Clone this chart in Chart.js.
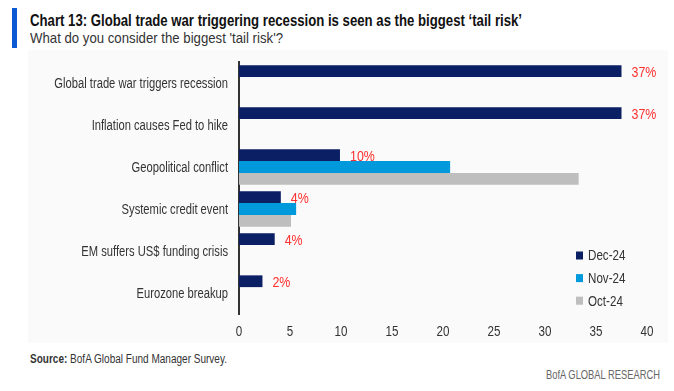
<!DOCTYPE html>
<html>
<head>
<meta charset="utf-8">
<script src="https://cdn.jsdelivr.net/npm/chart.js@4"></script>
<style>
  body { margin: 0; width: 674px; height: 391px; background: #fff; position: relative; overflow: hidden;
         font-family: "Liberation Sans", Arial, sans-serif; color: #222; }
  #panel { position: absolute; left: 28px; top: 50px; width: 640px; height: 293px; background: #fafafa; }
  #bar { position: absolute; left: 12px; top: 8px; width: 5px; height: 40px; background: #0a5ad4; }
  .txt { position: absolute; white-space: nowrap; transform-origin: 0 0; }
  #title { left: 30px; top: 11px; font-size: 16.5px; font-weight: bold; color: #111; }
  #sub { left: 30px; top: 29px; font-size: 15px; color: #333; }
  #src { left: 30px; top: 352px; font-size: 12.5px; color: #333; }
  #credit { left: 546px; top: 367px; font-size: 13.5px; color: #666; }
  canvas { position: absolute; left: 0; top: 0; }
</style>
</head>
<body>
<div id="panel"></div>
<div id="bar"></div>
<div class="txt" id="title" data-w="492">Chart 13: Global trade war triggering recession is seen as the biggest ‘tail risk’</div>
<div class="txt" id="sub" data-w="253">What do you consider the biggest 'tail risk'?</div>
<div class="txt" id="src" data-w="197"><b>Source:</b> BofA Global Fund Manager Survey.</div>
<div class="txt" id="credit" data-w="114">BofA GLOBAL RESEARCH</div>
<canvas id="tailrisk" width="674" height="391"></canvas>
<script>
var categories = ['Global trade war triggers recession', 'Inflation causes Fed to hike', 'Geopolitical conflict',
                  'Systemic credit event', 'EM suffers US$ funding crisis', 'Eurozone breakup'];
var dec24 = [37.5, 37.5, 9.9, 4.1, 3.5, 2.3];
var nov24 = [null, null, 20.7, 5.6, null, null];
var oct24 = [null, null, 33.3, 5.1, null, null];
var decLabels = ['37%', '37%', '10%', '4%', '4%', '2%'];
var xTicks = [0, 5, 10, 15, 20, 25, 30, 35, 40];

var FONT = '"Liberation Sans", Arial, sans-serif';

// squeeze the html texts to the widths of the original (it uses a condensed face)
document.querySelectorAll('.txt').forEach(function(el) {
    var k = +el.dataset.w / el.getBoundingClientRect().width;
    el.style.transform = 'scaleX(' + k + ')';
});

function narrowText(c, text, x, y, align, k) {
    c.save();
    c.translate(x, y);
    c.scale(k, 1);
    c.textAlign = align;
    c.fillText(text, 0, 0);
    c.restore();
}

// axis labels, value labels and legend drawn condensed
var narrowLabels = {
    id: 'narrowLabels',
    afterDraw: function(chart) {
        var c = chart.ctx;
        var xs = chart.scales.x, ys = chart.scales.y;
        c.save();
        c.textBaseline = 'middle';

        c.font = '14px ' + FONT;
        c.fillStyle = '#333';
        chart.data.labels.forEach(function(lab, i) {
            narrowText(c, lab, ys.right - 11, ys.getPixelForTick(i) + 1, 'right', 0.8);
        });
        xTicks.forEach(function(v) {
            narrowText(c, String(v), xs.getPixelForValue(v), xs.top + 18, 'center', 0.83);
        });

        c.font = '15.5px ' + FONT;
        c.fillStyle = '#ff3030';
        chart.getDatasetMeta(0).data.forEach(function(bar, i) {
            narrowText(c, decLabels[i], bar.x + 10, bar.y + 1, 'left', 0.8);
        });

        c.font = '14px ' + FONT;
        chart.data.datasets.forEach(function(ds, i) {
            var y = 255.5 + i * 22.6;
            c.fillStyle = ds.backgroundColor;
            c.fillRect(576, y - 4, 7, 8);
            c.fillStyle = '#333';
            narrowText(c, ds.label, 588, y + 1, 'left', 0.83);
        });
        c.restore();
    }
};

new Chart(document.getElementById('tailrisk').getContext('2d'), {
    type: 'bar',
    data: {
        labels: categories,
        datasets: [
            { label: 'Dec-24', data: dec24, backgroundColor: '#0b1f64' },
            { label: 'Nov-24', data: nov24, backgroundColor: '#0099dc' },
            { label: 'Oct-24', data: oct24, backgroundColor: '#bebebe' }
        ]
    },
    options: {
        indexAxis: 'y',
        responsive: false,
        animation: false,
        categoryPercentage: 0.84,
        barPercentage: 1.0,
        layout: { padding: { left: 0, top: 62, right: 27, bottom: 49 } },
        plugins: { legend: { display: false }, tooltip: { enabled: false } },
        scales: {
            x: {
                min: 0, max: 40,
                afterBuildTicks: function(s) { s.ticks = xTicks.map(function(v) { return { value: v }; }); },
                afterFit: function(s) { s.height = 28; },
                grid: { display: false, drawTicks: false },
                border: { display: false },
                ticks: { display: false }
            },
            y: {
                afterFit: function(s) { s.width = 239; },
                grid: { display: false, drawTicks: false },
                border: { display: true, color: '#333', width: 2 },
                ticks: { display: false }
            }
        }
    },
    plugins: [narrowLabels]
});
</script>
</body>
</html>
